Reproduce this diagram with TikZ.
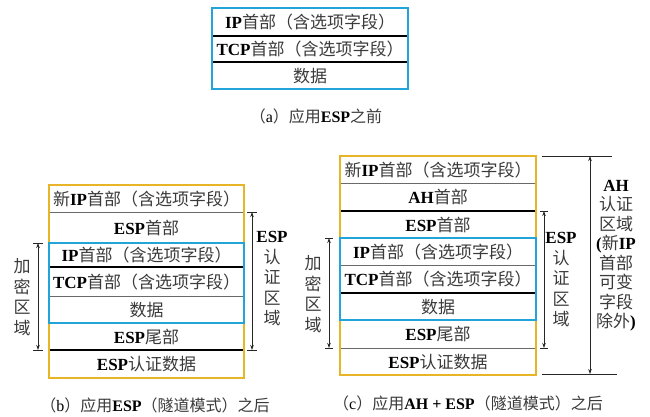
\documentclass[tikz,border=0pt]{standalone}
\usepackage{fontspec}
\setmainfont{Liberation Serif}
\newfontfamily\cjkfont{Noto Sans CJK SC}
\usetikzlibrary{arrows.meta}
\definecolor{orng}{HTML}{E8B428}
\definecolor{cyanb}{HTML}{22A4D8}
\definecolor{zhc}{HTML}{3A3A3A}
\definecolor{thinc}{HTML}{6A6A6A}
\newcommand\zh[1]{{\cjkfont\mdseries\color{zhc}#1}}
\begin{document}
\begin{tikzpicture}[x=1pt,y=-1pt,
  rowbox/.style={inner sep=0pt, text height=14pt, text depth=1pt, font=\fontsize{17}{20}\selectfont\bfseries},
  vlabel/.style={inner sep=0pt, align=center, font=\fontsize{17}{20.5}\selectfont\bfseries},
  caplabel/.style={inner sep=0pt, font=\fontsize{16}{19}\selectfont\bfseries},
  thickline/.style={line width=1.6pt, black},
  thinline/.style={line width=0.8pt, thinc},
  obox/.style={line width=2pt, orng},
  bbox/.style={line width=2pt, cyanb},
  dimarrow/.style={line width=0.8pt, black!85, {Stealth[length=5pt,width=3.5pt]}-{Stealth[length=5pt,width=3.5pt]}},
  tickline/.style={line width=0.8pt, black!85}
]
\useasboundingbox (0,0) rectangle (650,416);

% ---------------- (a) ----------------
\node[rowbox, minimum width=196pt, minimum height=28pt] (a1) at (310,22) {IP\zh{首部（含选项字段）}};
\node[rowbox, minimum width=196pt, minimum height=26pt] (a2) at (310,49) {TCP\zh{首部（含选项字段）}};
\node[rowbox, minimum width=196pt, minimum height=27pt] (a3) at (310,75.5) {\zh{数据}};
\draw[thickline] (a1.south west) -- (a1.south east);
\draw[thickline] (a2.south west) -- (a2.south east);
\draw[bbox] (a1.north west) rectangle (a3.south east);
\node[caplabel] (capa) at (316,116) {\zh{（}{\mdseries a}\zh{）应用}ESP\zh{之前}};

% ---------------- (b) ----------------
\node[rowbox, minimum width=195pt, minimum height=27pt] (b1) at (146.5,198.5) {\zh{新}IP\zh{首部（含选项字段）}};
\node[rowbox, minimum width=195pt, minimum height=31pt] (b2) at (146.5,227.5) {ESP\zh{首部}};
\node[rowbox, minimum width=195pt, minimum height=24pt] (b3) at (146.5,255) {IP\zh{首部（含选项字段）}};
\node[rowbox, minimum width=195pt, minimum height=29pt] (b4) at (146.5,281.5) {TCP\zh{首部（含选项字段）}};
\node[rowbox, minimum width=195pt, minimum height=27pt] (b5) at (146.5,309.5) {\zh{数据}};
\node[rowbox, minimum width=195pt, minimum height=27pt] (b6) at (146.5,336.5) {ESP\zh{尾部}};
\node[rowbox, minimum width=195pt, minimum height=28pt] (b7) at (146.5,364) {ESP\zh{认证数据}};
\draw[thinline] (b1.south west) -- (b1.south east);
\draw[thickline] (b3.south west) -- (b3.south east);
\draw[thinline] (b4.south west) -- (b4.south east);
\draw[thickline] (b6.south west) -- (b6.south east);
\draw[obox] (b1.north west) rectangle (b7.south east);
\draw[bbox] (b3.north west) rectangle (b5.south east);
% encryption region
\coordinate (be1) at (38,243);
\coordinate (be2) at (38,350);
\draw[tickline] ([xshift=-5pt]be1) -- ([xshift=5pt]be1);
\draw[tickline] ([xshift=-5pt]be2) -- ([xshift=5pt]be2);
\draw[dimarrow] (be1) -- (be2);
\node[vlabel] (bel) at (22,297) {\zh{加}\\\zh{密}\\\zh{区}\\\zh{域}};
% ESP auth region
\coordinate (ba1) at (252,212);
\coordinate (ba2) at (252,350);
\draw[tickline] ([xshift=-5pt]ba1) -- ([xshift=5pt]ba1);
\draw[tickline] ([xshift=-5pt]ba2) -- ([xshift=5pt]ba2);
\draw[dimarrow] (ba1) -- (ba2);
\node[vlabel] (bal) at (272,279) {ESP\\\zh{认}\\\zh{证}\\\zh{区}\\\zh{域}};
\node[caplabel] (capb) at (155,405) {\zh{（}{\mdseries b}\zh{）应用}ESP\zh{（隧道模式）之后}};

% ---------------- (c) ----------------
\node[rowbox, minimum width=196pt, minimum height=27pt] (c1) at (438,169.5) {\zh{新}IP\zh{首部（含选项字段）}};
\node[rowbox, minimum width=196pt, minimum height=28pt] (c2) at (438,197) {AH\zh{首部}};
\node[rowbox, minimum width=196pt, minimum height=27pt] (c3) at (438,224.5) {ESP\zh{首部}};
\node[rowbox, minimum width=196pt, minimum height=27pt] (c4) at (438,251.5) {IP\zh{首部（含选项字段）}};
\node[rowbox, minimum width=196pt, minimum height=28pt] (c5) at (438,279) {TCP\zh{首部（含选项字段）}};
\node[rowbox, minimum width=196pt, minimum height=27pt] (c6) at (438,306.5) {\zh{数据}};
\node[rowbox, minimum width=196pt, minimum height=28pt] (c7) at (438,334) {ESP\zh{尾部}};
\node[rowbox, minimum width=196pt, minimum height=27pt] (c8) at (438,361.5) {ESP\zh{认证数据}};
\draw[thinline] (c1.south west) -- (c1.south east);
\draw[thickline] (c2.south west) -- (c2.south east);
\draw[thinline] (c4.south west) -- (c4.south east);
\draw[thickline] (c5.south west) -- (c5.south east);
\draw[thinline] (c7.south west) -- (c7.south east);
\draw[obox] (c1.north west) rectangle (c8.south east);
\draw[bbox] (c4.north west) rectangle (c6.south east);
% encryption region
\coordinate (ce1) at (329,238);
\coordinate (ce2) at (329,348);
\draw[tickline] ([xshift=-4pt]ce1) -- ([xshift=4pt]ce1);
\draw[tickline] ([xshift=-4pt]ce2) -- ([xshift=4pt]ce2);
\draw[dimarrow] (ce1) -- (ce2);
\node[vlabel] (cel) at (313,294) {\zh{加}\\\zh{密}\\\zh{区}\\\zh{域}};
% ESP auth region
\coordinate (ca1) at (544,211);
\coordinate (ca2) at (544,348);
\draw[tickline] ([xshift=-4pt]ca1) -- ([xshift=4pt]ca1);
\draw[tickline] ([xshift=-4pt]ca2) -- ([xshift=4pt]ca2);
\draw[dimarrow] (ca1) -- (ca2);
\node[vlabel] (cal) at (561,280) {ESP\\\zh{认}\\\zh{证}\\\zh{区}\\\zh{域}};
% AH auth region
\coordinate (ah1) at (590,156);
\coordinate (ah2) at (590,374);
\draw[tickline] ([xshift=-48pt]ah1) -- ([xshift=22pt]ah1);
\draw[tickline] ([xshift=-48pt]ah2) -- ([xshift=27pt]ah2);
\draw[dimarrow] (ah1) -- (ah2);
\node[vlabel, font=\fontsize{17}{19.5}\selectfont\bfseries] (ahl) at (616,255.5)
  {AH\\\zh{认证}\\\zh{区域}\\(\zh{新}IP\\\zh{首部}\\\zh{可变}\\\zh{字段}\\\zh{除外})};
\node[caplabel] (capc) at (468,403) {\zh{（}{\mdseries c}\zh{）应用}AH + ESP\zh{（隧道模式）之后}};
\end{tikzpicture}
\end{document}
